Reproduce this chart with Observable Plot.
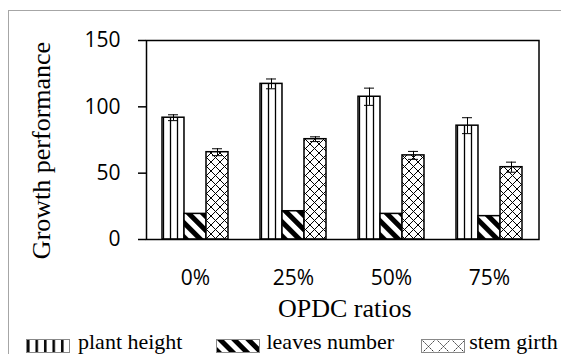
<!DOCTYPE html>
<html>
<head>
<meta charset="utf-8">
<script src="https://cdn.jsdelivr.net/npm/d3@7"></script>
<script src="https://cdn.jsdelivr.net/npm/@observablehq/plot@0.6"></script>
<style>
  body { margin: 0; background: #fff; }
  #wrap { position: relative; width: 561px; height: 354px; overflow: hidden; background: #fff; }
  #border { position: absolute; left: 8px; top: 10px; width: 620px; height: 420px; border: 1.5px solid #a6a6a6; box-sizing: border-box; pointer-events: none; }
  #chart { position: absolute; left: 0; top: 0; }
  #legend { position: absolute; left: 26px; top: 329.5px; display: flex; font-family: "Liberation Serif", "Times New Roman", Tinos, serif; font-size: 22px; color: #000; }
  .item { display: flex; align-items: flex-start; }
  .item svg { margin-top: 9px; display: block; }
  .item span { line-height: 24px; white-space: nowrap; }
</style>
</head>
<body>
<svg width="0" height="0" style="position:absolute">
  <defs>
    <pattern id="pat-vert" patternUnits="userSpaceOnUse" width="7" height="10">
      <rect width="7" height="10" fill="white"/>
      <line x1="3.5" y1="0" x2="3.5" y2="10" stroke="black" stroke-width="1.3"/>
    </pattern>
    <pattern id="pat-diag" patternUnits="userSpaceOnUse" width="10" height="10" patternTransform="rotate(-45)">
      <rect width="10" height="10" fill="white"/>
      <rect width="5" height="10" fill="black"/>
    </pattern>
    <pattern id="pat-cross" patternUnits="userSpaceOnUse" width="9" height="9">
      <rect width="9" height="9" fill="white"/>
      <path d="M0,0L9,9M9,0L0,9" stroke="black" stroke-width="1"/>
    </pattern>
    <pattern id="leg-vert" patternUnits="userSpaceOnUse" width="8.5" height="10">
      <rect width="8.5" height="10" fill="white"/>
      <rect x="1" width="2.5" height="10" fill="black"/>
    </pattern>
    <pattern id="leg-diag" patternUnits="userSpaceOnUse" width="10" height="10" patternTransform="rotate(-45)">
      <rect width="10" height="10" fill="white"/>
      <rect width="5" height="10" fill="black"/>
    </pattern>
    <pattern id="leg-cross" patternUnits="userSpaceOnUse" width="15" height="15">
      <rect width="15" height="15" fill="white"/>
      <path d="M0,0L15,15M15,0L0,15" stroke="#333" stroke-width="1" stroke-dasharray="2 1"/>
    </pattern>
  </defs>
</svg>
<div id="wrap">
  <div id="chart"></div>
  <div id="legend"></div>
  <div id="border"></div>
</div>
<script>
// ---- data ----
const ratios = ["0%", "25%", "50%", "75%"];
const seriesNames = ["plant height", "leaves number", "stem girth"];
const plantHeight = [91.8, 117.3, 107.6, 85.8];
const plantHeightErr = [2.2, 3.7, 6.5, 6.0];
const leavesNumber = [19.3, 21.3, 19.3, 17.6];
const leavesNumberErr = [null, null, null, null];
const stemGirth = [65.8, 75.6, 63.4, 54.5];
const stemGirthErr = [2.6, 1.8, 3.0, 3.8];
const yTicks = [0, 50, 100, 150];

// ---- styles ----
const serif = "'Liberation Serif', 'Times New Roman', Tinos, serif";
const sans = "'Open Sans', 'Liberation Sans', sans-serif";
const barFills = ["url(#pat-vert)", "url(#pat-diag)", "url(#pat-cross)"];
const legendFills = ["url(#leg-vert)", "url(#leg-diag)", "url(#leg-cross)"];
const barWidth = 22;

const valuesBySeries = [plantHeight, leavesNumber, stemGirth];
const errBySeries = [plantHeightErr, leavesNumberErr, stemGirthErr];

const rows = [];
seriesNames.forEach((s, i) => {
  ratios.forEach((r, j) => {
    rows.push({ series: s, si: i, ratio: r, value: valuesBySeries[i][j], err: errBySeries[i][j] });
  });
});

const marks = [];
seriesNames.forEach((s, i) => {
  const dx = (i - 1) * barWidth;
  const data = rows.filter(d => d.si === i);
  const withErr = data.filter(d => d.err != null);
  marks.push(Plot.barY(data, { x: "ratio", y: "value", fill: barFills[i], stroke: "black", strokeWidth: 1.5, dx }));
  marks.push(Plot.ruleX(withErr, { x: "ratio", y1: d => d.value - d.err, y2: d => d.value + d.err, stroke: "black", strokeWidth: 1, dx }));
  marks.push(Plot.tickY(withErr, { x: "ratio", y: d => d.value + d.err, stroke: "black", strokeWidth: 1, dx, inset: 6 }));
  marks.push(Plot.tickY(withErr, { x: "ratio", y: d => d.value - d.err, stroke: "black", strokeWidth: 1, dx, inset: 6 }));
});

const chart = Plot.plot({
  width: 561,
  height: 330,
  marginLeft: 146,
  marginRight: 22.5,
  marginTop: 40,
  marginBottom: 91,
  style: { background: "transparent", overflow: "visible" },
  x: { domain: ratios, paddingInner: 0.7757, paddingOuter: 0.3879 },
  y: { domain: [0, 150] },
  marks: [
    ...marks,
    Plot.frame({ stroke: "black", strokeWidth: 1.5 }),
    Plot.axisY({ ticks: yTicks, tickSize: 8, tickPadding: 18, strokeWidth: 1.5, fontSize: 21, fontFamily: sans, fill: "black", label: null }),
    Plot.axisX({ tickSize: 0, tickPadding: 31, fontSize: 21, fontFamily: sans, fill: "black", label: null }),
    Plot.text(["OPDC ratios"], { text: d => d, frameAnchor: "bottom", lineAnchor: "bottom", dy: 77, dx: 2, fontSize: 26, fontFamily: serif, fill: "black" }),
    Plot.text(["Growth performance"], { text: d => d, frameAnchor: "left", textAnchor: "middle", rotate: -90, dx: -104.5, dy: 10.5, fontSize: 26, fontFamily: serif, fill: "black" })
  ]
});
document.getElementById("chart").appendChild(chart);

// ---- legend ----
const legend = d3.select("#legend");
const gaps = [34, 27, 0];
const textMargins = [8, 6, 4];
seriesNames.forEach((s, i) => {
  const item = legend.append("div").attr("class", "item").style("margin-right", gaps[i] + "px");
  const sw = item.append("svg").attr("width", 44).attr("height", 14);
  sw.append("rect").attr("x", 0.5).attr("y", 0.5).attr("width", 43).attr("height", 13)
    .attr("fill", legendFills[i]).attr("stroke", "#888").attr("stroke-width", 1);
  item.append("span").style("margin-left", textMargins[i] + "px").text(s);
});
</script>
</body>
</html>
